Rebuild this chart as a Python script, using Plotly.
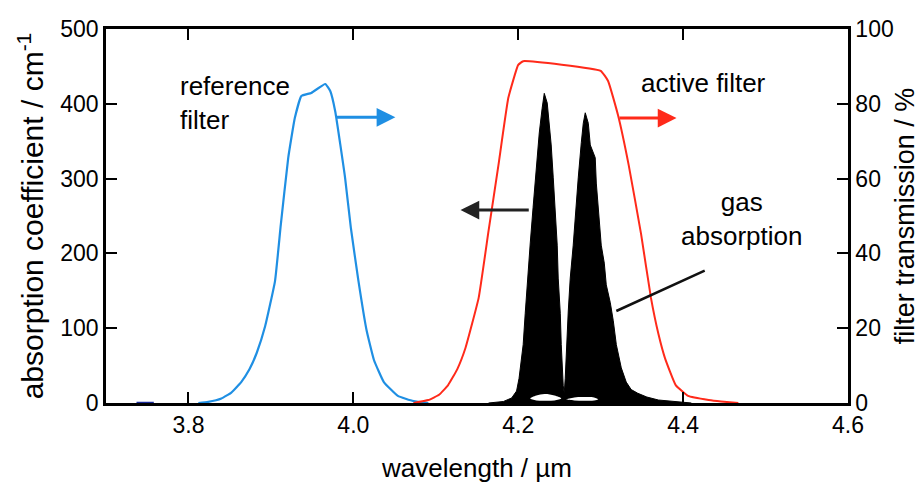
import plotly.graph_objects as go

# ---------------- data ----------------
# reference filter transmission (%), right axis
wl_ref = [3.812, 3.824, 3.840, 3.852, 3.864, 3.874, 3.883, 3.893, 3.905, 3.912,
          3.921, 3.929, 3.937, 3.949, 3.966, 3.972, 3.978, 3.990, 3.997, 4.006,
          4.016, 4.025, 4.037, 4.054, 4.073, 4.091]
tr_ref = [0, 0.3, 1.2, 2.8, 5.6, 9, 13.5, 20.5, 32.6, 47.6,
          65.5, 76.2, 82.1, 82.9, 85.3, 83.4, 78, 60.2, 46.8, 32.9,
          19.5, 11.5, 5.6, 1.9, 0.5, 0]

# short dark-blue baseline segment at the far left
wl_base = [3.737, 3.758]
tr_base = [0, 0]

# active filter transmission (%), right axis
wl_act = [4.073, 4.091, 4.104, 4.115, 4.126, 4.136, 4.152, 4.164, 4.176, 4.188,
          4.200, 4.206, 4.300, 4.309, 4.321, 4.334, 4.349, 4.361, 4.370, 4.378,
          4.391, 4.406, 4.431, 4.446, 4.467]
tr_act = [0, 0.8, 2.2, 4.8, 9, 14.7, 28.1, 46, 63.6, 81.6,
          90.4, 91.4, 88.8, 86.1, 77, 63.6, 45.2, 28.1, 18.5, 12,
          4.8, 1.9, 0.8, 0.4, 0]

# gas absorption envelope (cm^-1), left axis
wl_gas = [4.164, 4.182, 4.192, 4.198, 4.201, 4.206, 4.2085, 4.212, 4.2146, 4.218,
          4.222, 4.2255, 4.229, 4.2316, 4.2352, 4.2376, 4.240, 4.2425, 4.245, 4.2473,
          4.2485, 4.251, 4.2522, 4.2534, 4.2546, 4.2558, 4.257, 4.2607, 4.2631, 4.2667,
          4.2692, 4.2728, 4.2765, 4.2789, 4.2813, 4.285, 4.2874, 4.2910, 4.2934, 4.2947,
          4.2971, 4.3007, 4.3044, 4.3068, 4.3117, 4.3153, 4.319, 4.325, 4.331, 4.337,
          4.345, 4.356, 4.370, 4.390, 4.410]
abs_gas = [0, 2, 6.7, 16, 33, 78, 120, 167, 214, 261,
           314, 361, 394, 414, 401, 374, 345, 301, 257, 211,
           167, 120, 78, 47, 23, 13, 33, 123, 167, 211,
           254, 301, 348, 374, 388, 374, 345, 335, 328, 294,
           257, 211, 187, 158, 134, 110, 78, 47, 28, 18,
           13, 8, 4, 1.5, 0]

# small unfilled gaps at the foot of the two absorption branches
wl_gap1 = [4.2146, 4.222, 4.232, 4.244, 4.2522, 4.244, 4.232, 4.222, 4.2146]
abs_gap1 = [6, 10, 12, 10, 6, 3.5, 3, 3.5, 6]
wl_gap2 = [4.2585, 4.268, 4.280, 4.292, 4.2971, 4.292, 4.280, 4.268, 4.2585]
abs_gap2 = [5, 7.5, 8, 7.5, 5, 3.5, 3, 3.5, 5]

x_ticks = [3.8, 4.0, 4.2, 4.4, 4.6]
x_ticklabels = ["3.8", "4.0", "4.2", "4.4", "4.6"]
y_ticks = [0, 100, 200, 300, 400, 500]
y2_ticks = [0, 20, 40, 60, 80, 100]

BLUE = "#1f8fe3"
RED = "#ff2a1a"
FONT = "Liberation Sans, Arial, Helvetica, sans-serif"

fig = go.Figure()

fig.add_trace(go.Scatter(x=wl_gas, y=abs_gas, mode="lines", fill="toself",
                         fillcolor="black", line=dict(color="black", width=1),
                         yaxis="y", hoverinfo="skip", showlegend=False))
for gx, gy in ((wl_gap1, abs_gap1), (wl_gap2, abs_gap2)):
    fig.add_trace(go.Scatter(x=gx, y=gy, mode="lines", fill="toself",
                             fillcolor="white", line=dict(color="white", width=0),
                             line_shape="spline", yaxis="y", hoverinfo="skip",
                             showlegend=False))

fig.add_trace(go.Scatter(x=wl_base, y=tr_base, mode="lines",
                         line=dict(color="#1a2a9a", width=2.5), yaxis="y2",
                         showlegend=False))
fig.add_trace(go.Scatter(x=wl_ref, y=tr_ref, mode="lines", line_shape="spline",
                         line=dict(color=BLUE, width=2.2, smoothing=0.35),
                         yaxis="y2", showlegend=False))
fig.add_trace(go.Scatter(x=wl_act, y=tr_act, mode="lines", line_shape="spline",
                         line=dict(color=RED, width=2, smoothing=0.35),
                         yaxis="y2", showlegend=False))

axis_common = dict(showgrid=False, zeroline=False, showline=True, linecolor="black",
                   linewidth=2.5, ticks="inside", ticklen=11, tickwidth=2,
                   tickcolor="black", automargin=False,
                   tickfont=dict(family=FONT, size=23, color="black"))

fig.update_layout(
    width=924, height=482,
    margin=dict(l=98, r=84, t=21, b=87),
    paper_bgcolor="white", plot_bgcolor="white",
    font=dict(family=FONT, color="black"),
    xaxis=dict(range=[3.7, 4.6], tickvals=x_ticks, ticktext=x_ticklabels,
               mirror="ticks",
               title=dict(text="wavelength / µm", standoff=22,
                          font=dict(family=FONT, size=26, color="black")),
               **axis_common),
    yaxis=dict(range=[0, 500], tickvals=y_ticks,
               title=dict(text="absorption coefficient / cm<sup>-1</sup>", standoff=8,
                          font=dict(family=FONT, size=30, color="black")),
               **axis_common),
    yaxis2=dict(range=[0, 100], tickvals=y2_ticks, overlaying="y", side="right",
                title=dict(text="filter transmission / %", standoff=3,
                           font=dict(family=FONT, size=27, color="black")),
                **axis_common),
)

def arrow(x_tip, y_tip, x_tail, y_tail, color, yref="y"):
    fig.add_annotation(x=x_tip, y=y_tip, ax=x_tail, ay=y_tail, xref="x", yref=yref,
                       axref="x", ayref=yref, showarrow=True, arrowhead=2,
                       arrowsize=1.25, arrowwidth=3, arrowcolor=color, text="")

arrow(4.051, 382, 3.978, 382, BLUE)
arrow(4.392, 381, 4.321, 381, RED)
arrow(4.130, 258, 4.2146, 258, "#222222")

# pointer line to the gas absorption
fig.add_annotation(x=4.319, y=123, ax=4.428, ay=178, xref="x", yref="y",
                   axref="x", ayref="y", showarrow=True, arrowhead=0,
                   arrowwidth=2.5, arrowcolor="#111111", text="")

txt_font = dict(family=FONT, size=26, color="black")
fig.add_annotation(x=3.787, y=447, xref="x", yref="y", text="reference<br>filter",
                   showarrow=False, xanchor="left", yanchor="top", align="left",
                   font=txt_font)
fig.add_annotation(x=4.4245, y=428, xref="x", yref="y", text="active filter",
                   showarrow=False, xanchor="center", yanchor="middle",
                   font=txt_font)
fig.add_annotation(x=4.4706, y=246, xref="x", yref="y", text="gas<br>absorption",
                   showarrow=False, xanchor="center", yanchor="middle",
                   align="center", font=txt_font)

fig.write_html("out.html")
